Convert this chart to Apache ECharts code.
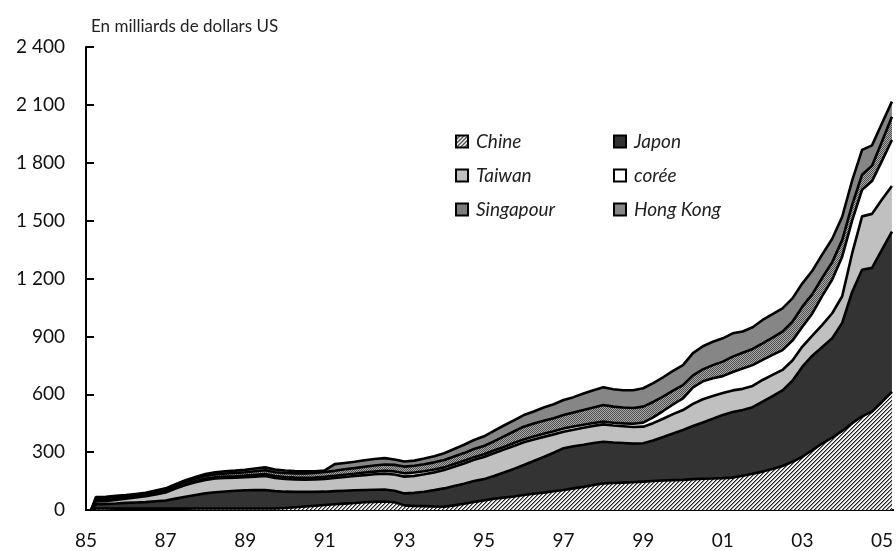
<!DOCTYPE html>
<html>
<head>
<meta charset="utf-8">
<script src="https://cdn.jsdelivr.net/npm/echarts@6/dist/echarts.min.js"></script>
<style>
html,body{margin:0;padding:0;background:#fff;}
#chart{width:896px;height:551px;}
</style>
</head>
<body>
<div id="chart"></div>
<script>
// Dates (decimal years, quarterly)
const dates = [1985.13,
 1985.25,1985.5,1985.75,
 1986,1986.25,1986.5,1986.75,
 1987,1987.25,1987.5,1987.75,
 1988,1988.25,1988.5,1988.75,
 1989,1989.25,1989.5,1989.75,
 1990,1990.25,1990.5,1990.75,
 1991,1991.25,1991.5,1991.75,
 1992,1992.25,1992.5,1992.75,
 1993,1993.25,1993.5,1993.75,
 1994,1994.25,1994.5,1994.75,
 1995,1995.25,1995.5,1995.75,
 1996,1996.25,1996.5,1996.75,
 1997,1997.25,1997.5,1997.75,
 1998,1998.25,1998.5,1998.75,
 1999,1999.25,1999.5,1999.75,
 2000,2000.25,2000.5,2000.75,
 2001,2001.25,2001.5,2001.75,
 2002,2002.25,2002.5,2002.75,
 2003,2003.25,2003.5,2003.75,
 2004,2004.25,2004.5,2004.75,
 2005,2005.25];

// Reserves, billions of US dollars
const chine = [0,
 8,8,7, 7,7,7,7, 7,7,7,8, 8,8,8,8, 8,8,8,8, 10,14,18,22, 26,30,33,36, 40,42,44,40,
 24,21,20,18, 17,24,32,42, 50,58,64,70, 78,84,90,97, 104,112,120,130, 138,140,142,144,
 147,150,153,155, 156,160,162,163, 165,168,178,188, 199,212,228,250, 276,310,345,375,
 410,450,485,510, 560,613];
const japon = [0,
 22,24,27, 30,32,34,38, 42,52,62,70, 78,84,88,92, 94,95,96,90, 85,80,76,72, 69,68,67,66,
 64,63,62,60, 62,68,75,85, 95,100,104,108, 110,118,130,143, 155,170,185,200, 216,218,218,217,
 216,210,205,200, 199,210,225,242, 259,275,292,310, 328,340,340,345, 363,378,392,420,
 467,490,500,515, 560,680,760,745, 790,830];
const taiwan = [0,
 14,15,18, 22,26,30,36, 42,52,60,66, 70,71,70,68, 68,70,72,68, 66,64,63,64, 66,68,71,74,
 77,80,82,84, 87,88,90,92, 95,100,105,110, 115,118,119,119, 118,112,104,95, 86,86,88,89,
 90,88,87,86, 86,90,95,100, 103,115,120,118, 113,112,110,110, 112,110,106,105,
 104,104,115,130, 138,200,277,280, 260,237];
const coree = [0,
 5,5,5, 4,4,4,4, 5,5,5,5, 6,6,7,7, 8,9,10,10, 10,10,10,10, 11,11,12,12,
 13,14,15,16, 17,17,16,15, 14,14,14,14, 14,14,14,15, 15,15,16,16, 17,17,16,15,
 14,14,15,17, 21,30,40,50, 60,85,93,92, 88,95,105,108, 104,104,103,103,
 103,115,150,175, 205,170,138,170, 200,238];
const singapour = [0,
 10,10,10, 9,9,9,10, 10,11,12,13, 14,15,16,17, 18,19,20,20, 21,22,23,24, 25,26,28,29,
 30,32,33,34, 35,35,36,37, 38,39,40,42, 43,48,55,60, 66,67,68,68, 69,72,76,80,
 86,84,82,82, 83,80,75,72, 69,63,62,68, 75,80,82,84, 86,90,95,98,
 104,100,94,90, 86,82,78,80, 100,121];
const hongkong = [0,
 8,7,6, 5,5,5,6, 6,7,8,9, 10,11,12,12, 13,14,15,14, 13,12,11,9, 8,35,33,33,
 34,33,33,28, 26,27,30,32, 35,39,43,47, 50,54,56,58, 60,63,68,72, 78,80,86,90,
 92,90,90,92, 95,98,100,102, 104,115,120,121, 121,121,110,112, 121,121,121,121,
 121,121,121,121, 121,125,129,105, 95,78];

const seriesNames = ['Chine','Japon','Taiwan','corée','Singapour','Hong Kong'];
const seriesValues = [chine, japon, taiwan, coree, singapour, hongkong];
const yTicks = [0,300,600,900,1200,1500,1800,2100,2400];

function hatchPattern(){
  const c=document.createElement('canvas'); c.width=4; c.height=4;
  const g=c.getContext('2d');
  g.fillStyle='#f2f2f2'; g.fillRect(0,0,4,4);
  g.fillStyle='#8a8a8a'; for(let i=0;i<4;i++){ g.fillRect((i+1)%4,3-i,1,1); }
  g.fillStyle='#222'; for(let i=0;i<4;i++){ g.fillRect(i,3-i,1,1); }
  return {image:c, repeat:'repeat'};
}
function dotPattern(){
  const c=document.createElement('canvas'); c.width=2; c.height=2;
  const g=c.getContext('2d');
  g.fillStyle='#a8a8a8'; g.fillRect(0,0,2,2);
  g.fillStyle='#505050'; g.fillRect(0,0,1,1); g.fillRect(1,1,1,1);
  return {image:c, repeat:'repeat'};
}
const fills = [hatchPattern(), '#333333', '#c0c0c0', '#ffffff', dotPattern(), '#868686'];

const FONT = 'Lato, "Open Sans", sans-serif';
const chart = echarts.init(document.getElementById('chart'), null, {renderer:'canvas'});

// cumulative table for stacked drawing (upper boundary of each layer)
const cumul = [];
seriesValues.forEach((vals,i)=>{
  cumul.push(vals.map((v,k)=> (i>0 ? cumul[i-1][k] : 0) + v));
});

const series = seriesNames.map((n,i)=>({
  name:n, type:'line', symbol:'none', smooth:false,
  data: dates.map((d,k)=>[d, cumul[i][k]]),
  lineStyle:{color:'#000', width:2.6},
  itemStyle:{color:fills[i]},
  areaStyle:{color:fills[i], opacity:1, origin:'start'},
  z: 20 - i
}));

function legendData(names){
  return names.map(n=>({name:n, icon:'rect', itemStyle:{color:fills[seriesNames.indexOf(n)], borderColor:'#000', borderWidth:2}}));
}
const legendCommon = {
  orient:'vertical', padding:0, itemWidth:12, itemHeight:12, itemGap:13,
  textStyle:{fontFamily:FONT, fontStyle:'italic', fontSize:19, color:'#222', lineHeight:21, padding:[0,0,0,3]},
  selectedMode:false
};

chart.setOption({
  animation:false,
  backgroundColor:'#fff',
  title:{text:'En milliards de dollars US', left:86, top:13,
    textStyle:{fontFamily:FONT, fontSize:17, fontWeight:'normal', color:'#222'}},
  legend:[
    Object.assign({}, legendCommon, {left:455, top:131, data:legendData(['Chine','Taiwan','Singapour'])}),
    Object.assign({}, legendCommon, {left:613, top:131, data:legendData(['Japon','corée','Hong Kong'])})
  ],
  grid:{left:86, right:0, top:47, bottom:41, containLabel:false},
  xAxis:[{
    type:'value', min:1985, max:2005.28, interval:1, position:'bottom',
    axisLine:{show:true, onZero:false, lineStyle:{color:'#000', width:2}},
    axisTick:{show:true, inside:true, length:6, lineStyle:{color:'#000', width:2}},
    splitLine:{show:false},
    axisLabel:{show:true, margin:21, fontFamily:FONT, fontSize:19, color:'#111', showMaxLabel:false,
      formatter:function(v){ const r=Math.round(v); if(Math.abs(v-r)>1e-6) return ''; return (r%2===1)? String(r).slice(2) : ''; }}
  },{
    type:'value', min:1985, max:2005.28, position:'top',
    axisLine:{show:true, lineStyle:{color:'#000', width:2}},
    axisTick:{show:false}, axisLabel:{show:false}, splitLine:{show:false}
  }],
  yAxis:{
    type:'value', min:0, max:2400, interval:300,
    axisLine:{show:true, lineStyle:{color:'#000', width:2}},
    axisTick:{show:true, inside:true, length:8, lineStyle:{color:'#000', width:2}},
    splitLine:{show:false},
    axisLabel:{margin:21, fontFamily:FONT, fontSize:19, color:'#111',
      formatter:function(v){ if(yTicks.indexOf(v)<0) return ''; return v>=1000? Math.floor(v/1000)+' '+String(v%1000).padStart(3,'0') : String(v); }}
  },
  series: series
});
</script>
</body>
</html>
